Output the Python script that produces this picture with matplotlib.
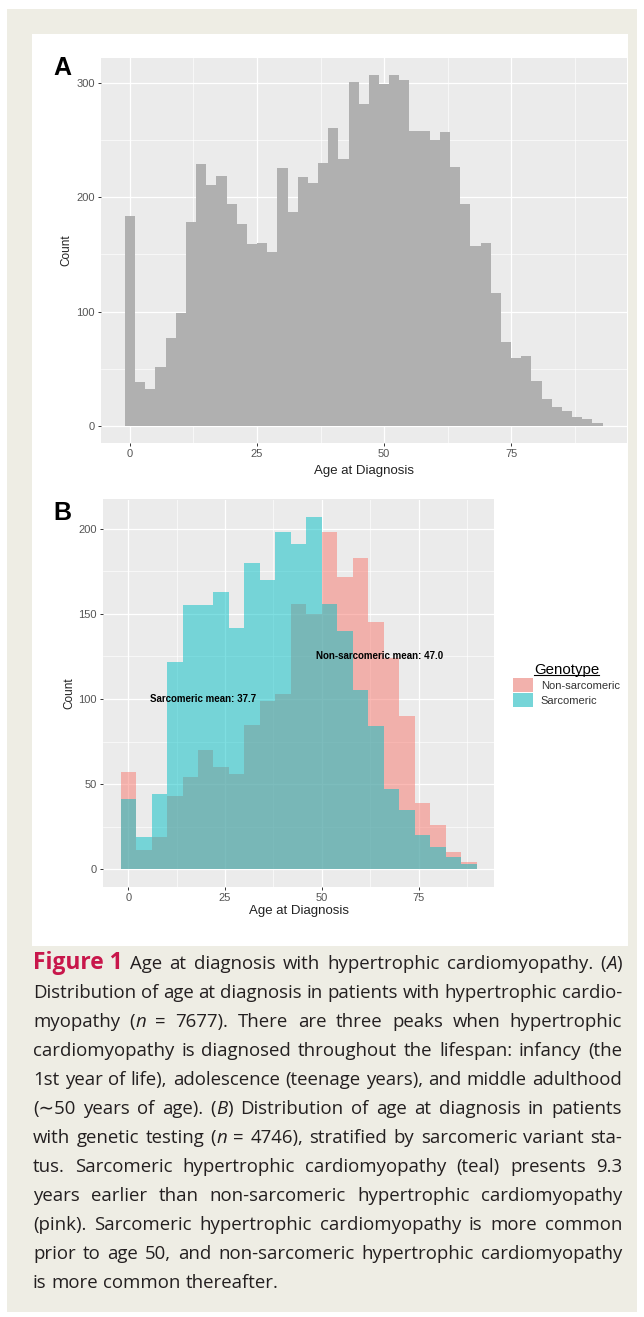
import numpy as np
import matplotlib
matplotlib.use("Agg")
import matplotlib.pyplot as plt
from matplotlib.patches import Rectangle, Patch
from matplotlib.lines import Line2D
import matplotlib.colors as mcolors

# ---------------- data ----------------
# Panel A: age at diagnosis, all patients (bin width 2, bin centres)
ages_a = [0, 2, 4, 6, 8, 10, 12, 14, 16, 18, 20, 22, 24, 26, 28, 30, 32, 34, 36, 38,
          40, 42, 44, 46, 48, 50, 52, 54, 56, 58, 60, 62, 64, 66, 68, 70, 72, 74, 76,
          78, 80, 82, 84, 86, 88, 90, 92]
counts_a = [184, 38, 32, 51, 77, 99, 178, 229, 211, 219, 194, 177, 159, 160, 152, 226,
            187, 218, 213, 230, 261, 234, 301, 282, 307, 299, 307, 303, 258, 258, 250,
            257, 227, 194, 157, 160, 116, 73, 59, 61, 39, 23, 16, 13, 8, 6, 2]
binwidth_a = 2

# Panel B: by genotype (bin width 4, bin centres)
ages_b = [0, 4, 8, 12, 16, 20, 24, 28, 32, 36, 40, 44, 48, 52, 56, 60, 64, 68, 72, 76,
          80, 84, 88]
counts_sarc = [41, 19, 44, 122, 155, 155, 163, 142, 180, 170, 198, 191, 207, 156, 140,
               105, 84, 47, 35, 20, 13, 7, 3]
counts_non = [57, 11, 19, 43, 54, 70, 60, 56, 85, 99, 103, 156, 150, 198, 172, 183, 145,
              124, 90, 39, 26, 10, 4]
binwidth_b = 4
groups = ["Non-sarcomeric", "Sarcomeric"]
mean_labels = ["Non-sarcomeric mean: 47.0", "Sarcomeric mean: 37.7"]
mean_label_pos = [(64.8, 125), (19.4, 100)]

x_ticks = [0, 25, 50, 75]
x_minor = [12.5, 37.5, 62.5, 87.5]
y_ticks_a = [0, 100, 200, 300]
y_minor_a = [50, 150, 250]
y_ticks_b = [0, 50, 100, 150, 200]
y_minor_b = [25, 75, 125, 175]

caption_first = "Age at diagnosis with hypertrophic cardiomyopathy. (_A_)"
caption_lines = [
    "Distribution of age at diagnosis in patients with hypertrophic cardio-",
    "myopathy (_n_ = 7677). There are three peaks when hypertrophic",
    "cardiomyopathy is diagnosed throughout the lifespan: infancy (the",
    "1st year of life), adolescence (teenage years), and middle adulthood",
    "(\u223c50 years of age). (_B_) Distribution of age at diagnosis in patients",
    "with genetic testing (_n_ = 4746), stratified by sarcomeric variant sta-",
    "tus. Sarcomeric hypertrophic cardiomyopathy (teal) presents 9.3",
    "years earlier than non-sarcomeric hypertrophic cardiomyopathy",
    "(pink). Sarcomeric hypertrophic cardiomyopathy is more common",
    "prior to age 50, and non-sarcomeric hypertrophic cardiomyopathy",
    "is more common thereafter.",
]

# ---------------- style ----------------
W, H = 644, 1317
plt.rcParams["font.family"] = ["Liberation Sans", "DejaVu Sans"]
fig = plt.figure(figsize=(W / 100, H / 100), dpi=100)
fig.patch.set_facecolor("white")


def fx(x):
    return x / W


def fy(y):
    return 1 - y / H


def blend(c, bg, a):
    c = np.array(mcolors.to_rgb(c))
    bg = np.array(mcolors.to_rgb(bg))
    return tuple(a * c + (1 - a) * bg)


PINK = "#F8766D"
TEAL = "#00BFC4"
PANEL = "#EBEBEB"

fig.add_artist(Rectangle((fx(7), fy(1312)), (637 - 7) / W, (1312 - 9) / H,
                         transform=fig.transFigure, facecolor="#EEEDE4",
                         edgecolor="none", zorder=-10))
fig.add_artist(Rectangle((fx(32), fy(946)), (628 - 32) / W, (946 - 34) / H,
                         transform=fig.transFigure, facecolor="white",
                         edgecolor="none", zorder=-9))


def style(ax, ylim, ymaj, ymin, xlim):
    ax.set_facecolor(PANEL)
    for s in ax.spines.values():
        s.set_visible(False)
    ax.set_xlim(*xlim)
    ax.set_ylim(*ylim)
    ax.set_xticks(x_ticks)
    ax.set_xticklabels([str(v) for v in x_ticks])
    ax.set_xticks(x_minor, minor=True)
    ax.set_yticks(ymaj)
    ax.set_yticklabels([str(v) for v in ymaj])
    ax.set_yticks(ymin, minor=True)
    ax.grid(which="major", color="white", linewidth=0.9)
    ax.grid(which="minor", color="white", linewidth=0.45)
    ax.set_axisbelow(True)
    ax.tick_params(which="major", length=2.5, width=0.7, color="#333333",
                   labelcolor="#555555", labelsize=8, pad=2)
    ax.tick_params(which="minor", length=0)


# ---------------- panel A ----------------
axA = fig.add_axes([fx(101), fy(443.2), (626.5 - 101) / W, (443.2 - 57.7) / H])
edges_a = np.append(np.array(ages_a) - binwidth_a / 2, ages_a[-1] + binwidth_a / 2)
axA.hist(ages_a, bins=edges_a, weights=counts_a, histtype="stepfilled",
         color="#B0B0B0", linewidth=0, zorder=2)
style(axA, (-15.35, 322.35), y_ticks_a, y_minor_a, (-5.7, 97.7))
axA.set_xlabel("Age at Diagnosis", fontsize=9.5, color="#222222")
axA.xaxis.set_label_coords(0.5, -0.056)
axA.set_ylabel("Count", fontsize=8.5, color="#222222")
axA.yaxis.set_label_coords(-0.055, 0.5)
fig.text(fx(53), fy(75), "A", fontsize=18, fontweight="bold", va="baseline")

# ---------------- panel B ----------------
axB = fig.add_axes([fx(102.8), fy(886.6), (494.4 - 102.8) / W, (886.6 - 499.5) / H])
edges_b = np.append(np.array(ages_b) - binwidth_b / 2, ages_b[-1] + binwidth_b / 2)
axB.hist(ages_b, bins=edges_b, weights=counts_non, histtype="stepfilled",
         color=PINK, alpha=0.5, linewidth=0, zorder=2)
axB.hist(ages_b, bins=edges_b, weights=counts_sarc, histtype="stepfilled",
         color=TEAL, alpha=0.5, linewidth=0, zorder=3)
style(axB, (-10.35, 217.35), y_ticks_b, y_minor_b, (-6.6, 94.6))
axB.set_xlabel("Age at Diagnosis", fontsize=9.5, color="#222222")
axB.xaxis.set_label_coords(0.5, -0.047)
axB.set_ylabel("Count", fontsize=8.5, color="#222222")
axB.yaxis.set_label_coords(-0.070, 0.5)
for lab, (mx, my) in zip(mean_labels, mean_label_pos):
    axB.text(mx, my, lab, ha="center", va="center", fontsize=7,
             fontweight="bold", color="black", zorder=5)
fig.text(fx(53), fy(520), "B", fontsize=18, fontweight="bold", va="baseline")

handles = [Patch(facecolor=blend(PINK, PANEL, 0.5), edgecolor="none"),
           Patch(facecolor=blend(TEAL, PANEL, 0.5), edgecolor="none")]
leg = axB.legend(handles, groups, title="Genotype", loc="upper left",
                 bbox_to_anchor=(fx(513), fy(663)), bbox_transform=fig.transFigure,
                 frameon=False, fontsize=8, title_fontsize=10.8, handlelength=1.8,
                 handleheight=1.53, labelspacing=0.1, handletextpad=0.7,
                 borderpad=0, borderaxespad=0)
for t in leg.get_texts():
    t.set_color("#333333")

# ---------------- caption ----------------
fig.canvas.draw()
renderer = fig.canvas.get_renderer()
bb = leg.get_title().get_window_extent(renderer)
inv = fig.transFigure.inverted()
(p0, p1) = inv.transform([(bb.x0, bb.y0 + 2.2), (bb.x1, bb.y0 + 2.2)])
fig.add_artist(Line2D([p0[0], p1[0]], [p0[1], p1[1]], transform=fig.transFigure,
                      color="black", linewidth=0.8))

CAP_FONT = ["Open Sans", "DejaVu Sans"]
CAP_COLOR = "#231F20"
FIG_RED = "#C8174B"
LEFT, RIGHT = 33, 622
BASE0, LEAD = 969, 29


def parse_word(w):
    runs = []
    for i, p in enumerate(w.split("_")):
        if p:
            runs.append((p, "italic" if i % 2 == 1 else "normal"))
    return runs


def props(style_, size):
    if style_ == "fig":
        return dict(fontsize=size * 1.22, fontweight="bold", color=FIG_RED,
                    family=CAP_FONT)
    return dict(fontsize=size, style=style_, color=CAP_COLOR, family=CAP_FONT)


def width(txt, style_, size):
    t = fig.text(0, 0, txt, **props(style_, size))
    w = t.get_window_extent(renderer).width
    t.remove()
    return w


lines_tokens = [[[("Figure 1", "fig")]] + [parse_word(w) for w in caption_first.split(" ")]]
lines_tokens += [[parse_word(w) for w in ln.split(" ")] for ln in caption_lines]


def space_w(size):
    return width("a a", "normal", size) - width("aa", "normal", size)


def natural(tokens, size):
    ws = sum(width(t, s, size) for word in tokens for (t, s) in word)
    return ws + (len(tokens) - 1) * space_w(size)


S0 = 12.0
nat = [natural(tk, S0) for tk in lines_tokens[:-1]]
size = S0 * (RIGHT - LEFT) / max(nat) * 0.995

sp = space_w(size)
for i, tokens in enumerate(lines_tokens):
    wlist = [[width(t, s, size) for (t, s) in word] for word in tokens]
    total = sum(sum(w) for w in wlist)
    if i < len(lines_tokens) - 1:
        gap = (RIGHT - LEFT - total) / (len(tokens) - 1)
    else:
        gap = sp
    x = LEFT
    y = BASE0 + LEAD * i
    for word, ws in zip(tokens, wlist):
        for (t, s), w in zip(word, ws):
            fig.text(fx(x), fy(y), t, va="baseline", ha="left", **props(s, size))
            x += w
        x += gap

fig.savefig("out.png", dpi=100, facecolor="white")
